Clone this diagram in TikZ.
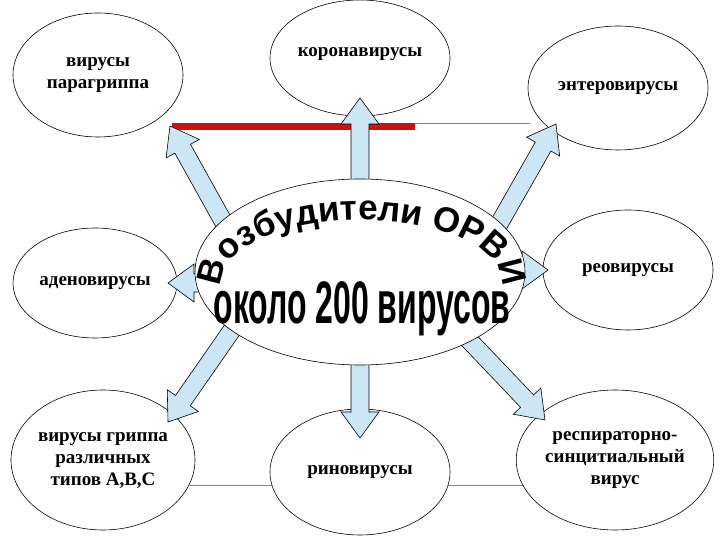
\documentclass[tikz,border=0pt]{standalone}
\usepackage{fontspec}
\setmainfont{Liberation Serif}
\setsansfont{Liberation Sans}
\usetikzlibrary{calc,decorations.text,shapes.geometric}
\definecolor{arrblue}{HTML}{CCE6F6}
\definecolor{barred}{HTML}{CC1111}
\tikzset{
  oval/.style={draw=black,fill=white,ellipse,line width=0.6pt,align=center,font=\fontsize{19}{22}\selectfont\bfseries,inner sep=0pt},
  fatarr/.style={draw=black,fill=arrblue,line width=0.6pt,line join=miter},
}
\newcommand\fatarrow[2]{%
  \path let \p1=($(#2)-(#1)$), \n1={veclen(\x1,\y1)}, \n2={atan2(\y1,\x1)} in
    \pgfextra{\xdef\alen{\n1}\xdef\aang{\n2}};
  \draw[fatarr,shift={(#1)},rotate=\aang]
    (0pt,-9pt) -- ({\alen-26pt},-9pt) -- ({\alen-26pt},-19pt) -- (\alen,0pt)
    -- ({\alen-26pt},19pt) -- ({\alen-26pt},9pt) -- (0pt,9pt) -- cycle;}
\begin{document}
\begin{tikzpicture}[x=1pt,y=1pt]
\useasboundingbox (0,0) rectangle (720,540);
\fill[white] (0,0) rectangle (720,540);
% thin red lines
\draw[red!70,line width=0.5pt] (415,417) -- (530,417);
\draw[red!70,line width=0.5pt] (190,55) -- (275,55);
\draw[red!70,line width=0.5pt] (445,55) -- (525,55);
% ovals
\node[oval,minimum width=170,minimum height=124] (para) at (98,465) {вирусы\\парагриппа};
\node[oval,minimum width=180,minimum height=116] (corona) at (360,482) {\raisebox{12pt}{коронавирусы}};
\node[oval,minimum width=180,minimum height=124] (entero) at (618,452) {энтеровирусы};
\node[oval,minimum width=164,minimum height=110] (adeno) at (95,257) {аденовирусы};
\node[oval,minimum width=170,minimum height=120] (reo) at (628,270) {реовирусы};
\node[oval,minimum width=184,minimum height=140] (gripp) at (103,80) {вирусы гриппа\\различных\\типов А,В,С};
\node[oval,minimum width=180,minimum height=126] (rino) at (360,68) {риновирусы};
\node[oval,minimum width=190,minimum height=140] (rsv) at (615,80) {респираторно-\\синцитиальный\\вирус};
% red bar
\fill[barred] (172,410) rectangle (415,417);
% arrow coordinates
\coordinate (cU) at (360,352); \coordinate (eU) at (360,442);
\coordinate (cUL) at (238,292); \coordinate (eUL) at (170,414);
\coordinate (cUR) at (487,295); \coordinate (eUR) at (556,416);
\coordinate (cL) at (200,257); \coordinate (eL) at (168,257);
\coordinate (cR) at (520,270); \coordinate (eR) at (548,270);
\coordinate (cDL) at (232,210); \coordinate (eDL) at (168,118);
\coordinate (cD) at (360,180); \coordinate (eD) at (360,102);
\coordinate (cDR) at (466,203); \coordinate (eDR) at (545,120);
\fatarrow{cU}{eU}
\fatarrow{cUL}{eUL}
\fatarrow{cUR}{eUR}
\fatarrow{cL}{eL}
\fatarrow{cR}{eR}
\fatarrow{cDL}{eDL}
\fatarrow{cD}{eD}
\fatarrow{cDR}{eDR}
% central oval
\node[draw=black,fill=white,ellipse,line width=0.6pt,minimum width=330,minimum height=186] (center) at (360,268) {};
\path[decorate,decoration={text along path,text align=center,
  text={|\sffamily\bfseries\fontsize{35}{35}\selectfont|Возбудители ОРВИ}}]
  (222,258) arc[start angle=180,end angle=0,x radius=140,y radius=62];
\node[font=\sffamily\bfseries\fontsize{40}{40}\selectfont,xscale=0.8,yscale=1.5] (sub) at (362,231) {около 200 вирусов};
\end{tikzpicture}
\end{document}
